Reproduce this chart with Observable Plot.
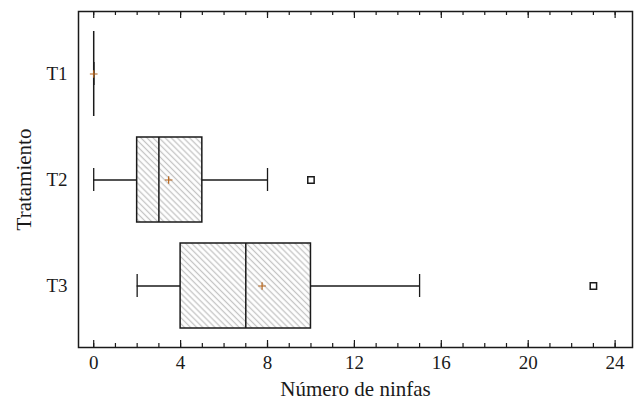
<!DOCTYPE html>
<html>
<head>
<meta charset="utf-8">
<script src="https://cdn.jsdelivr.net/npm/d3@7"></script>
<script src="https://cdn.jsdelivr.net/npm/@observablehq/plot@0.6"></script>
<style>
  html, body { margin: 0; padding: 0; background: #fff; }
  #chart svg text { font-family: "Liberation Serif", "Times New Roman", serif; }
  #chart g[aria-label="x-axis label"] text, #chart g[aria-label="y-axis label"] text { font-size: 21px; }
</style>
</head>
<body>
<div id="chart"></div>
<script>
// ---- data ----
const categories = ["T1", "T2", "T3"];
const whiskerLow  = [0, 0, 2];
const quartile1   = [0, 2, 4];
const medians     = [0, 3, 7];
const quartile3   = [0, 5, 10];
const whiskerHigh = [0, 8, 15];
const means       = [0, 3.45, 7.75];
const outlierCategories = ["T2", "T3"];
const outlierValues     = [10, 23];
const majorTicks = [0, 4, 8, 12, 16, 20, 24];
const minorTicks = d3.range(0, 25);

const boxes = categories.map((c, i) => ({
  cat: c, lo: whiskerLow[i], q1: quartile1[i], med: medians[i],
  q3: quartile3[i], hi: whiskerHigh[i], mean: means[i]
}));
const outliers = outlierCategories.map((c, i) => ({cat: c, v: outlierValues[i]}));

const height = 405, marginTop = 11, marginBottom = 58;
const innerH = height - marginTop - marginBottom;
const ink = "#1a1a1a";

const svg = Plot.plot({
  width: 635,
  height,
  marginLeft: 78,
  marginRight: 3,
  marginTop,
  marginBottom,
  style: {fontFamily: "Liberation Serif, serif", fontSize: "19px", color: ink, background: "#fff"},
  x: {domain: [-0.7, 24.8]},
  y: {domain: categories, paddingInner: 0.2, paddingOuter: 0.184},
  marks: [
    Plot.axisX(majorTicks, {tickSize: 0, tickPadding: 8, fontSize: 19, label: "Número de ninfas", labelAnchor: "center", labelArrow: "none", labelOffset: 48}),
    Plot.axisY({tickSize: 0, tickPadding: 11, fontSize: 19, label: "Tratamiento", labelAnchor: "center", labelArrow: "none", labelOffset: 62}),
    // inward ticks bottom
    Plot.ruleX(minorTicks, {x: d => d, insetTop: innerH - 4, stroke: ink, strokeWidth: 1.2}),
    Plot.ruleX(majorTicks, {x: d => d, insetTop: innerH - 7, stroke: ink, strokeWidth: 1.2}),
    // inward ticks top
    Plot.ruleX(minorTicks, {x: d => d, insetBottom: innerH - 4, stroke: ink, strokeWidth: 1.2}),
    Plot.ruleX(majorTicks, {x: d => d, insetBottom: innerH - 7, stroke: ink, strokeWidth: 1.2}),
    Plot.frame({stroke: ink, strokeWidth: 1.5}),
    // whiskers
    Plot.ruleY(boxes, {y: "cat", x1: "lo", x2: "q1", stroke: ink, strokeWidth: 1.3}),
    Plot.ruleY(boxes, {y: "cat", x1: "q3", x2: "hi", stroke: ink, strokeWidth: 1.3}),
    Plot.tickX(boxes, {y: "cat", x: "lo", insetTop: 31, insetBottom: 31, stroke: ink, strokeWidth: 1.3}),
    Plot.tickX(boxes, {y: "cat", x: "hi", insetTop: 31, insetBottom: 31, stroke: ink, strokeWidth: 1.3}),
    // boxes
    Plot.barX(boxes, {y: "cat", x1: "q1", x2: "q3", fill: "url(#hatch)", stroke: ink, strokeWidth: 1.5}),
    Plot.tickX(boxes, {y: "cat", x: "med", stroke: ink, strokeWidth: 1.5}),
    // outliers
    Plot.dot(outliers, {y: "cat", x: "v", symbol: "square", r: 3.6, fill: "white", stroke: ink, strokeWidth: 1.5}),
    // means
    Plot.dot(boxes, {y: "cat", x: "mean", symbol: "plus", r: 2.6, stroke: "#b5651d", strokeWidth: 1.2})
  ]
});

const ns = "http://www.w3.org/2000/svg";
const defs = document.createElementNS(ns, "defs");
defs.innerHTML = `<pattern id="hatch" patternUnits="userSpaceOnUse" width="4.3" height="4.3" patternTransform="rotate(-45)">
  <rect width="4.3" height="4.3" fill="white"/>
  <line x1="2.15" y1="0" x2="2.15" y2="4.3" stroke="#c4c4c4" stroke-width="1.3"/>
</pattern>`;
svg.insertBefore(defs, svg.firstChild);

document.getElementById("chart").appendChild(svg);
</script>
</body>
</html>
